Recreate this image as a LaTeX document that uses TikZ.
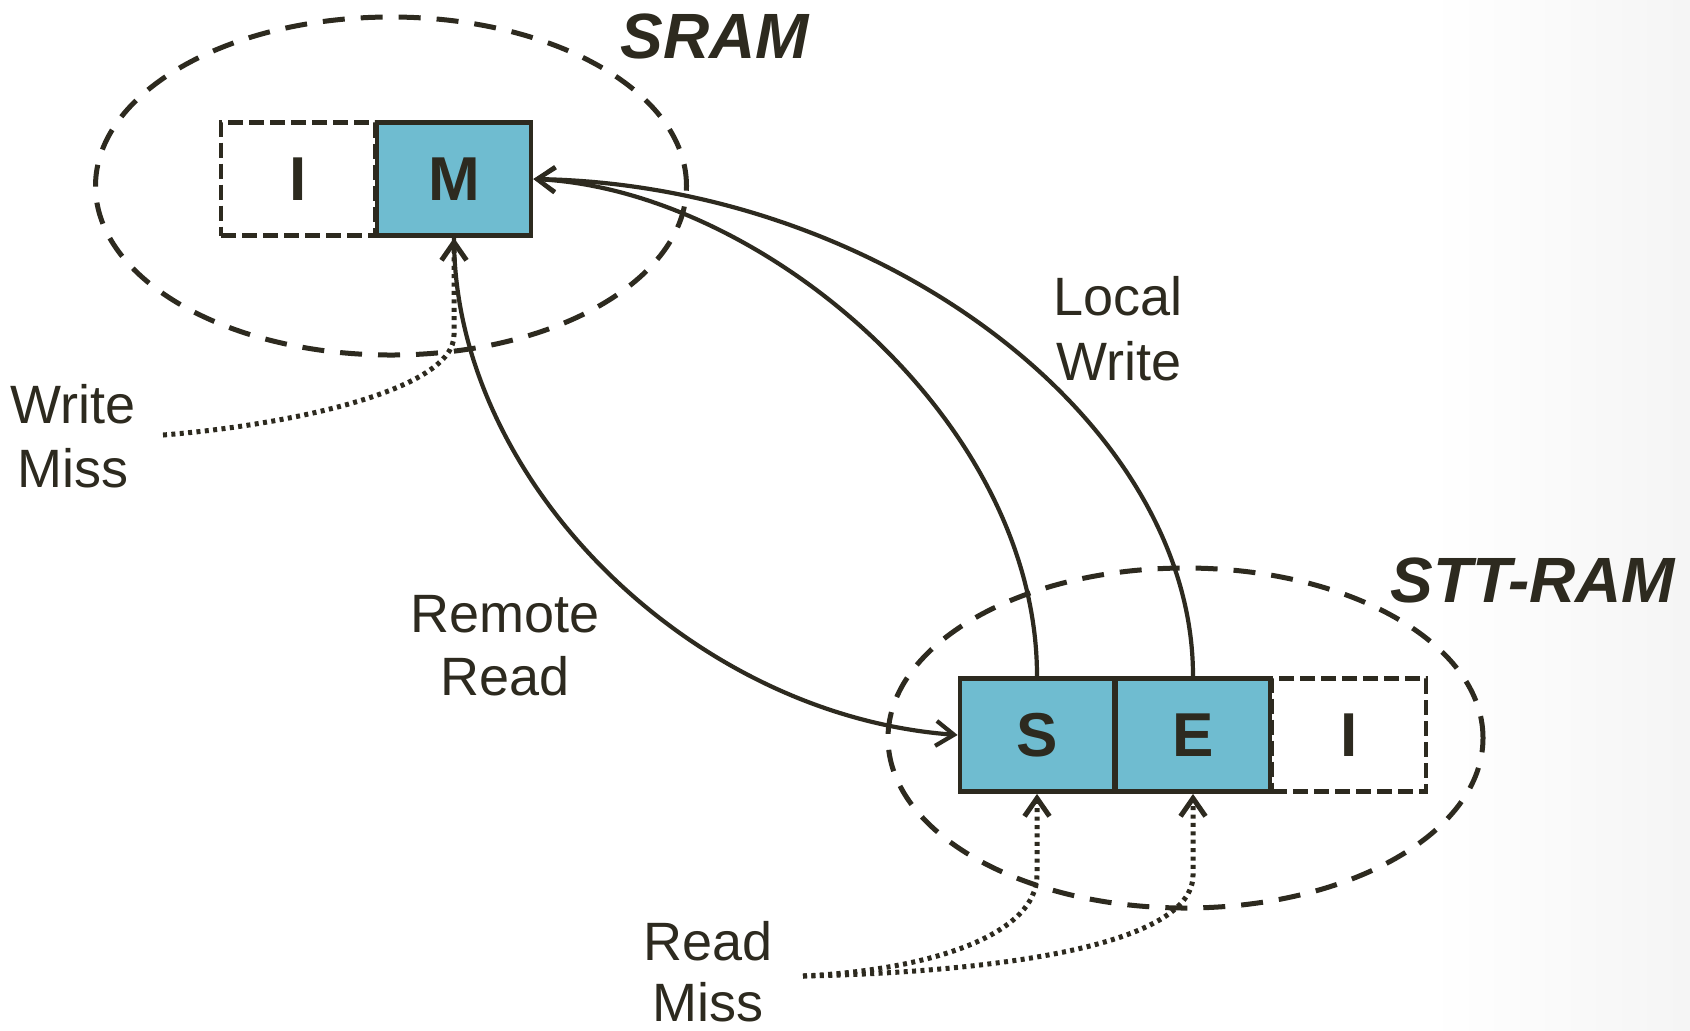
\documentclass[tikz,border=0pt]{standalone}
\usepackage{fontspec}
\setmainfont{Liberation Sans}
\usetikzlibrary{arrows.meta}
\definecolor{ink}{HTML}{2D2A1F}
\definecolor{cellfill}{HTML}{6FBCD0}
\begin{document}
\begin{tikzpicture}[x=0.5pt,y=-0.5pt,
  cell/.style={draw=ink, line width=2.4pt, minimum width=77pt, minimum height=56.5pt, inner sep=0pt,
    font=\fontsize{31}{31}\selectfont\bfseries, text=ink},
  fullcell/.style={cell, fill=cellfill},
  emptycell/.style={cell, dash pattern=on 7.5pt off 3pt},
  region/.style={draw=ink, line width=2.5pt, dash pattern=on 11pt off 8pt},
  trans/.style={draw=ink, line width=2.1pt, -{Straight Barb[length=9pt,width=12.5pt]}},
  miss/.style={draw=ink, line width=2.5pt, dash pattern=on 2pt off 2.2pt, -{Straight Barb[length=9pt,width=12.5pt]}},
  lbl/.style={text=ink, font=\fontsize{27}{32}\selectfont, anchor=base, inner sep=0pt},
  title/.style={text=ink, font=\fontsize{32}{32}\selectfont\bfseries\itshape, anchor=base, inner sep=0pt}
]
% background
\fill[white] (0,0) rectangle (1690,1030);
\shade[left color=white, right color=black!4] (1430,0) rectangle (1690,1030);
\useasboundingbox (0,0) rectangle (1690,1030);

% regions
\draw[region] (391,186) ellipse [x radius=147.75pt, y radius=84.5pt];
\draw[region] (1185.5,738) ellipse [x radius=148.75pt, y radius=85pt];

% titles
\node[title] (sramlbl) at (715,58) {SRAM};
\node[title] (sttlbl) at (1533,602) {STT-RAM};

% cells
\node[emptycell] (sI) at (298,179) {I};
\node[fullcell] (M) at (454,179) {M};
\node[fullcell] (S) at (1037,735) {S};
\node[fullcell] (E) at (1193,735) {E};
\node[emptycell] (tI) at (1349,735) {I};

% labels
\node[lbl] (wm1) at (73,423) {Write};
\node[lbl] (wm2) at (73,487) {Miss};
\node[lbl] (lw1) at (1118,315) {Local};
\node[lbl] (lw2) at (1119,380) {Write};
\node[lbl] (rr1) at (505,632) {Remote};
\node[lbl] (rr2) at (505,695) {Read};
\node[lbl] (rm1) at (708,960) {Read};
\node[lbl] (rm2) at (708,1021) {Miss};

% free ends
\coordinate (wmstart) at (163,435);
\coordinate (rmstart) at (803,976);

% transitions
\draw[trans] (M.south) .. controls (454,480) and (690,715) .. (S.west);
\draw[trans] (S.north) .. controls (1037,420) and (760,190) .. (M.east);
\draw[trans] (E.north) .. controls (1193,420) and (880,185) .. (M.east);

% misses
\draw[miss] (wmstart) .. controls (290,425) and (454,390) .. (454,335) -- (M.south);
\draw[miss] (rmstart) .. controls (930,970) and (1037,935) .. (1037,875) -- (S.south);
\draw[miss] (rmstart) .. controls (1000,972) and (1193,945) .. (1193,875) -- (E.south);
\end{tikzpicture}
\end{document}
